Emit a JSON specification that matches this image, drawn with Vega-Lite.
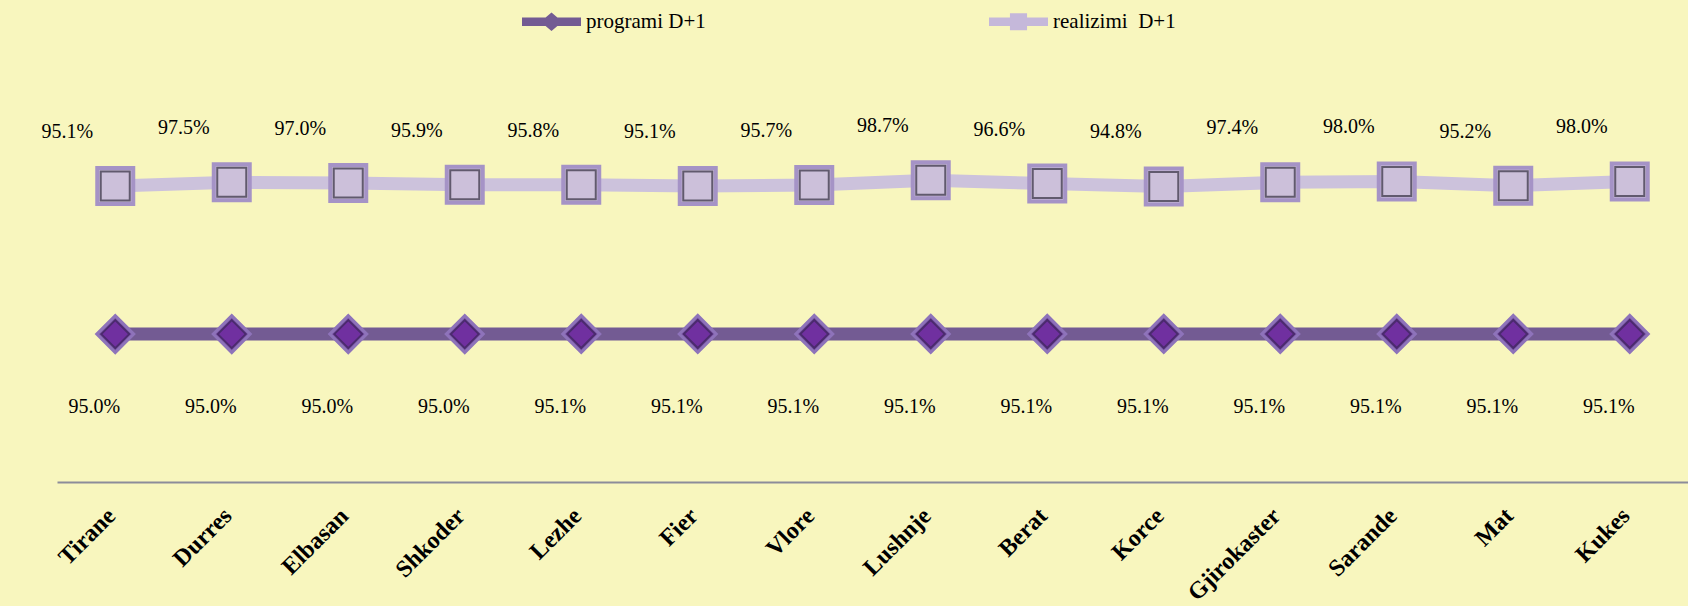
{
  "$schema": "https://vega.github.io/schema/vega-lite/v6.json",
  "autosize": "none",
  "width": 1631,
  "height": 467,
  "padding": {"left": 57, "top": 15, "right": 0, "bottom": 124},
  "background": "#F8F6BE",
  "config": {"view": {"stroke": null}},
  "data": {"values": [
    {"region": "Tirane", "series": "programi D+1", "value": 0.950},
    {"region": "Durres", "series": "programi D+1", "value": 0.950},
    {"region": "Elbasan", "series": "programi D+1", "value": 0.950},
    {"region": "Shkoder", "series": "programi D+1", "value": 0.950},
    {"region": "Lezhe", "series": "programi D+1", "value": 0.951},
    {"region": "Fier", "series": "programi D+1", "value": 0.951},
    {"region": "Vlore", "series": "programi D+1", "value": 0.951},
    {"region": "Lushnje", "series": "programi D+1", "value": 0.951},
    {"region": "Berat", "series": "programi D+1", "value": 0.951},
    {"region": "Korce", "series": "programi D+1", "value": 0.951},
    {"region": "Gjirokaster", "series": "programi D+1", "value": 0.951},
    {"region": "Sarande", "series": "programi D+1", "value": 0.951},
    {"region": "Mat", "series": "programi D+1", "value": 0.951},
    {"region": "Kukes", "series": "programi D+1", "value": 0.951},
    {"region": "Tirane", "series": "realizimi\u00a0 D+1", "value": 0.951},
    {"region": "Durres", "series": "realizimi\u00a0 D+1", "value": 0.975},
    {"region": "Elbasan", "series": "realizimi\u00a0 D+1", "value": 0.970},
    {"region": "Shkoder", "series": "realizimi\u00a0 D+1", "value": 0.959},
    {"region": "Lezhe", "series": "realizimi\u00a0 D+1", "value": 0.958},
    {"region": "Fier", "series": "realizimi\u00a0 D+1", "value": 0.951},
    {"region": "Vlore", "series": "realizimi\u00a0 D+1", "value": 0.957},
    {"region": "Lushnje", "series": "realizimi\u00a0 D+1", "value": 0.987},
    {"region": "Berat", "series": "realizimi\u00a0 D+1", "value": 0.966},
    {"region": "Korce", "series": "realizimi\u00a0 D+1", "value": 0.948},
    {"region": "Gjirokaster", "series": "realizimi\u00a0 D+1", "value": 0.974},
    {"region": "Sarande", "series": "realizimi\u00a0 D+1", "value": 0.980},
    {"region": "Mat", "series": "realizimi\u00a0 D+1", "value": 0.952},
    {"region": "Kukes", "series": "realizimi\u00a0 D+1", "value": 0.980}
  ]},
  "transform": [
    {"stack": "value", "groupby": ["region"], "sort": [{"field": "series", "order": "ascending"}], "as": ["v0", "v1"]}
  ],
  "encoding": {
    "x": {
      "field": "region", "type": "nominal", "sort": null, "title": null,
      "axis": {
        "labelAngle": -45, "labelAlign": "right", "labelBaseline": "middle",
        "labelFont": "Liberation Serif", "labelFontSize": 24, "labelFontWeight": "bold",
        "labelColor": "#000000", "labelPadding": 30, "labelOffset": -4,
        "ticks": false, "domainColor": "#8C8C9A", "domainWidth": 2, "grid": false
      }
    },
    "y": {"field": "v1", "type": "quantitative", "stack": null, "scale": {"domain": [0, 3]}, "axis": null}
  },
  "layer": [
    {
      "mark": {"type": "line", "strokeWidth": 13},
      "encoding": {
        "color": {
          "field": "series", "type": "nominal",
          "scale": {"domain": ["programi D+1", "realizimi\u00a0 D+1"], "range": ["#735B93", "#CCC2DC"]},
          "legend": {
            "title": null, "orient": "none", "direction": "horizontal",
            "legendX": 465, "legendY": -23,
            "labelFont": "Liberation Serif", "labelFontSize": 21, "labelColor": "#000000",
            "labelOffset": 5, "columnPadding": 283, "symbolSize": 3481, "symbolStrokeWidth": 0,
            "encode": {
              "symbols": {
                "update": {
                  "shape": {"signal": "datum.value == 'programi D+1' ? 'M-1,-0.14L-0.2,-0.14L0,-0.31L0.2,-0.14L1,-0.14L1,0.14L0.2,0.14L0,0.31L-0.2,0.14L-1,0.14Z' : 'M-1,-0.14L-0.29,-0.14L-0.29,-0.29L0.29,-0.29L0.29,-0.14L1,-0.14L1,0.14L0.29,0.14L0.29,0.29L-0.29,0.29L-0.29,0.14L-1,0.14Z'"},
                  "fill": {"signal": "datum.value == 'programi D+1' ? '#735B93' : '#C5B8DA'"},
                  "stroke": {"value": "transparent"}
                }
              }
            }
          }
        }
      }
    },
    {
      "transform": [{"filter": "datum.series == 'programi D+1'"}],
      "mark": {"type": "point", "shape": "diamond", "filled": true, "size": 1369, "fill": "#7D59A8", "stroke": "#8E73BA", "strokeWidth": 3, "opacity": 1}
    },
    {
      "transform": [{"filter": "datum.series == 'programi D+1'"}],
      "mark": {"type": "point", "shape": "diamond", "filled": true, "size": 784, "fill": "#7030A0", "stroke": "#4B2A6E", "strokeWidth": 2, "opacity": 1}
    },
    {
      "transform": [{"filter": "datum.series != 'programi D+1'"}],
      "mark": {"type": "point", "shape": "square", "filled": true, "size": 1296, "fill": "#CCC0DA", "stroke": "#A593C6", "strokeWidth": 4, "opacity": 1}
    },
    {
      "transform": [{"filter": "datum.series != 'programi D+1'"}],
      "mark": {"type": "point", "shape": "square", "filled": true, "size": 841, "fill": "#CCC0DA", "stroke": "#615A6E", "strokeWidth": 2, "opacity": 1}
    },
    {
      "transform": [{"filter": "datum.series != 'programi D+1'"}],
      "mark": {"type": "text", "font": "Liberation Serif", "fontSize": 20, "color": "#000000", "dx": -48, "dy": -54},
      "encoding": {"text": {"field": "value", "type": "quantitative", "format": ".1%"}}
    },
    {
      "transform": [{"filter": "datum.series == 'programi D+1'"}],
      "mark": {"type": "text", "font": "Liberation Serif", "fontSize": 20, "color": "#000000", "dx": -21, "dy": 73},
      "encoding": {"text": {"field": "value", "type": "quantitative", "format": ".1%"}}
    }
  ]
}
